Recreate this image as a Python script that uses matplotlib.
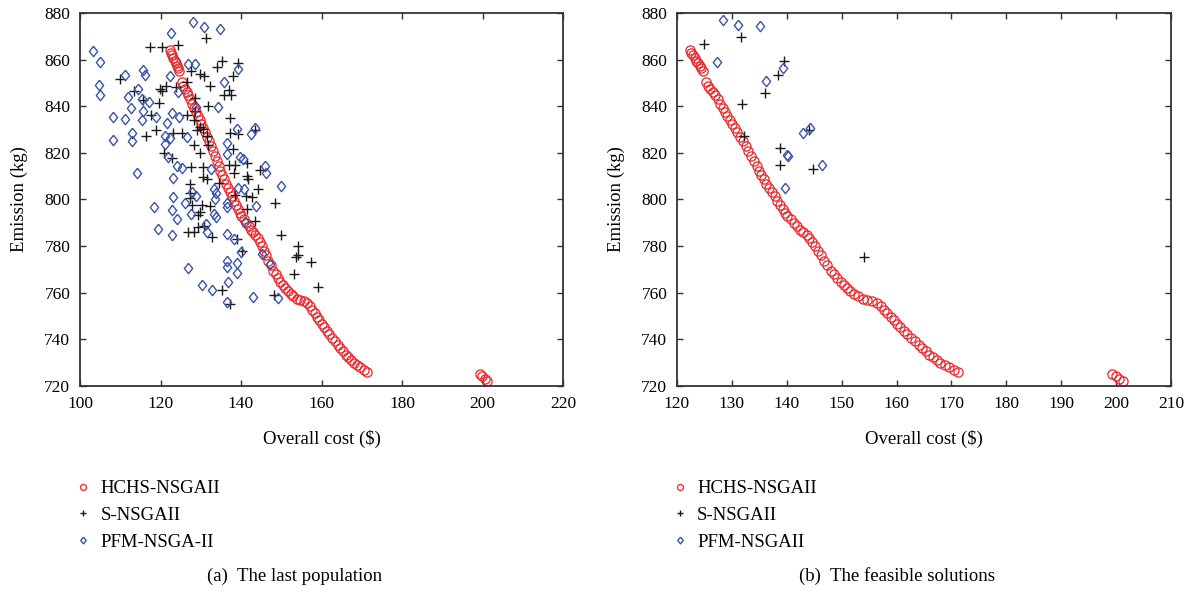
import matplotlib
matplotlib.use("Agg")
import matplotlib.pyplot as plt

plt.rcParams["font.family"] = ["Liberation Serif", "DejaVu Serif"]

# HCHS-NSGAII front (same in both panels)
HCHS_COST = [
    122.3, 122.6, 122.9, 123.2, 123.5, 123.8, 124.1, 124.4, 124.7,
    125.3, 125.7, 126.1, 126.5, 126.9, 127.4, 127.9, 128.4, 128.8, 129.2,
    129.7, 130.1, 130.6, 131.0, 131.5, 132.0, 132.5, 133.0, 133.5, 134.0,
    134.5, 134.9, 135.3, 135.8, 136.3, 136.8, 137.3, 137.8, 138.3, 138.8,
    139.3, 139.7, 140.1, 140.7, 141.3, 141.9, 142.5, 143.0, 143.6, 144.1,
    144.6, 145.1, 145.6, 146.2, 146.8, 147.4, 148.0, 148.6, 149.2, 149.8,
    150.4, 151.0, 151.6, 152.3, 153.0, 153.8, 154.6, 155.6, 156.5, 157.1,
    157.7, 158.3, 158.9, 159.5, 160.1, 160.7, 161.3, 161.9, 162.6, 163.3,
    164.0, 164.7, 165.3, 166.0, 166.7, 167.3, 168.0, 168.8, 169.5, 170.5,
    171.2,
    199.3, 199.9, 200.5, 201.2,
]
HCHS_EMISSION = [
    864.2, 863.0, 861.8, 860.7, 859.6, 858.5, 857.4, 856.3, 855.3,
    850.3, 848.9, 847.6, 846.2, 844.8, 843.0, 841.1, 839.1, 837.6, 836.0,
    834.1, 832.5, 830.6, 829.0, 827.0, 825.0, 823.0, 821.0, 818.7, 816.4,
    814.2, 812.3, 810.5, 808.6, 806.8, 804.9, 803.1, 801.3, 799.5, 797.7,
    795.9, 794.4, 793.0, 791.5, 790.0, 788.5, 787.0, 785.9, 784.6, 783.5,
    781.7, 779.9, 778.1, 776.0, 773.8, 771.7, 769.5, 767.9, 766.4, 764.8,
    763.3, 762.0, 760.7, 759.5, 758.5, 757.5, 757.0, 756.3, 755.5, 754.2,
    752.8, 751.5, 749.8, 748.2, 746.5, 745.1, 743.6, 742.2, 740.6, 739.1,
    737.5, 736.1, 734.9, 733.5, 732.3, 731.2, 730.0, 729.1, 728.3, 727.0,
    726.0,
    725.0, 724.2, 723.2, 722.0,
]

# S-NSGAII, last population
S_LAST_COST = [
    117.4, 120.4, 124.3, 131.4, 135.3, 139.2, 134.0, 127.5, 129.8, 130.8,
    138.1, 109.9, 113.3, 115.6, 119.9, 121.4, 120.3, 123.8, 126.5, 132.4,
    137.1, 135.7, 137.4, 119.7, 128.6, 131.7, 117.6, 126.7, 128.5, 128.3,
    137.3, 119.0, 116.5, 123.2, 125.4, 129.0, 129.8, 130.6, 131.6, 137.3,
    139.3, 143.5, 128.4, 131.7, 138.1, 120.8, 122.8, 129.7, 127.5, 130.6,
    137.1, 138.5, 141.6, 144.6, 138.3, 130.6, 131.6, 141.6, 141.7, 134.5,
    127.3, 144.2, 127.3, 127.8, 130.2, 132.2, 138.5, 141.2, 142.7, 141.4,
    148.4, 129.8, 129.4, 143.6, 126.9, 128.2, 129.4, 130.8, 132.7, 138.9,
    140.2, 149.9, 154.1, 153.7, 154.2, 157.3, 153.2, 159.1, 135.4, 137.3,
    148.2, 127.3,
]
S_LAST_EMISSION = [
    865.6, 865.4, 866.1, 869.2, 859.6, 858.7, 856.9, 855.1, 853.8, 853.1,
    852.9, 851.6, 846.4, 842.6, 847.6, 848.6, 846.4, 848.2, 850.3, 848.8,
    847.1, 844.9, 844.9, 841.5, 843.7, 840.2, 836.1, 836.2, 838.1, 834.3,
    835.0, 829.6, 827.4, 828.5, 828.6, 829.8, 831.2, 830.1, 827.2, 828.5,
    828.0, 829.8, 823.3, 823.5, 821.5, 819.8, 817.6, 819.8, 814.0, 814.0,
    815.0, 815.0, 815.5, 812.5, 811.2, 809.8, 808.9, 810.2, 808.6, 807.1,
    806.7, 804.3, 800.5, 797.6, 797.6, 797.2, 801.9, 801.7, 801.2, 796.0,
    798.6, 794.8, 793.4, 790.9, 786.2, 786.2, 788.3, 788.6, 784.0, 783.0,
    777.7, 784.9, 780.0, 775.5, 776.2, 773.1, 768.0, 762.4, 761.2, 755.2,
    758.9, 803.0,
]

# PFM-NSGA-II, last population
PFM_LAST_COST = [
    128.1, 130.8, 134.8, 122.6, 103.2, 104.9, 126.8, 128.6, 139.2, 111.3,
    115.6, 116.1, 122.4, 135.8, 104.8, 104.9, 114.4, 111.9, 115.3, 117.2,
    124.4, 112.6, 134.3, 128.8, 108.1, 111.2, 115.6, 115.3, 119.0, 122.8,
    124.5, 121.7, 138.9, 143.6, 142.6, 108.3, 113.0, 113.0, 121.2, 122.3,
    121.1, 126.7, 136.6, 136.4, 139.8, 140.4, 121.9, 124.0, 125.3, 114.2,
    123.0, 146.0, 146.3, 150.0, 132.5, 127.8, 128.7, 133.3, 133.8, 133.5,
    139.2, 140.8, 123.2, 118.4, 122.8, 124.0, 126.0, 127.7, 131.2, 131.6,
    133.2, 133.8, 136.4, 136.5, 143.7, 141.0, 119.5, 122.8, 136.6, 138.3,
    140.0, 145.1, 147.1, 136.5, 136.4, 139.1, 139.1, 126.9, 130.2, 132.9,
    136.7, 136.4, 143.1, 149.3,
]
PFM_LAST_EMISSION = [
    876.0, 874.1, 873.3, 871.5, 863.8, 858.9, 858.3, 858.3, 856.0, 853.6,
    855.5, 853.6, 853.1, 850.4, 849.0, 844.7, 847.3, 843.8, 843.3, 841.9,
    846.2, 839.4, 839.8, 839.7, 835.3, 834.7, 838.0, 834.0, 835.5, 837.2,
    835.3, 832.9, 830.3, 830.7, 827.9, 825.6, 828.5, 825.0, 827.4, 826.4,
    823.6, 826.8, 824.1, 819.5, 818.4, 817.4, 818.2, 814.2, 813.6, 811.5,
    809.3, 814.3, 811.4, 806.0, 812.9, 803.4, 801.3, 804.3, 802.8, 800.1,
    804.8, 804.6, 801.0, 796.7, 795.3, 791.8, 798.6, 793.7, 789.7, 786.2,
    793.6, 792.6, 798.6, 796.9, 797.2, 790.5, 787.3, 784.9, 785.3, 782.9,
    777.6, 776.6, 772.3, 773.6, 771.0, 772.7, 768.5, 770.5, 763.4, 761.2,
    764.5, 756.2, 758.3, 757.9,
]

# feasible solutions
S_FEAS_COST = [124.9, 131.6, 139.5, 138.4, 136.0, 131.8, 132.2, 144.1, 138.8, 138.7, 144.8, 154.1]
S_FEAS_EMISSION = [866.7, 869.7, 859.3, 853.6, 845.7, 841.0, 827.1, 830.0, 821.9, 815.0, 812.9, 775.3]
PFM_FEAS_COST = [128.4, 131.1, 135.1, 127.2, 139.4, 136.2, 143.0, 144.2, 140.0, 140.2, 146.4, 139.7]
PFM_FEAS_EMISSION = [877.1, 874.7, 874.3, 858.8, 856.4, 851.0, 828.6, 830.7, 818.9, 818.5, 814.6, 805.0]

RED = "#e8262a"
BLACK = "#1a1a1a"
BLUE = "#3a55a6"
SPINE = "#333333"
DIAMOND = [(0, 1), (0.8, 0), (0, -1), (-0.8, 0), (0, 1)]


def _style_axes(ax, xlim, xstep):
    ax.set_xlim(*xlim)
    ax.set_ylim(720, 880)
    ax.set_xticks(range(xlim[0], xlim[1] + 1, xstep))
    ax.set_yticks(range(720, 881, 20))
    ax.tick_params(direction="in", top=True, right=True, length=4, width=1.0,
                   color=SPINE, labelsize=12.5, pad=7)
    for s in ax.spines.values():
        s.set_linewidth(1.3)
        s.set_color(SPINE)
    ax.set_xlabel("Overall cost ($)", fontsize=13.5, labelpad=13)
    ax.set_ylabel("Emission (kg)", fontsize=13.5, labelpad=12)


def _draw(ax, s_cost, s_em, p_cost, p_em, p_label):
    ax.plot(HCHS_COST, HCHS_EMISSION, linestyle="none", marker="o", markersize=6.6,
            markerfacecolor="none", markeredgecolor=RED, markeredgewidth=0.9,
            label="HCHS-NSGAII")
    ax.plot(s_cost, s_em, linestyle="none", marker="+", markersize=7,
            color=BLACK, markeredgewidth=1.0, label="S-NSGAII")
    ax.plot(p_cost, p_em, linestyle="none", marker=DIAMOND, markersize=7.5,
            markerfacecolor="none", markeredgecolor=BLUE, markeredgewidth=1.0,
            label=p_label)
    ax.legend(loc="upper left", bbox_to_anchor=(-0.02, -0.232), frameon=False,
              fontsize=13.5, handlelength=0.6, handletextpad=0.6,
              labelspacing=0.52, markerscale=0.65, borderaxespad=0)


fig = plt.figure(figsize=(11.98, 5.93), dpi=100)
ax1 = fig.add_axes([80 / 1198, 1 - 386 / 593, 483 / 1198, 373 / 593])
ax2 = fig.add_axes([677 / 1198, 1 - 386 / 593, 494 / 1198, 373 / 593])

_draw(ax1, S_LAST_COST, S_LAST_EMISSION, PFM_LAST_COST, PFM_LAST_EMISSION, "PFM-NSGA-II")
_style_axes(ax1, (100, 220), 20)

_draw(ax2, S_FEAS_COST, S_FEAS_EMISSION, PFM_FEAS_COST, PFM_FEAS_EMISSION, "PFM-NSGAII")
_style_axes(ax2, (120, 210), 10)

fig.text(295 / 1198, 1 - 576 / 593, "(a)  The last population", ha="center", va="center", fontsize=13.5)
fig.text(897 / 1198, 1 - 576 / 593, "(b)  The feasible solutions", ha="center", va="center", fontsize=13.5)

fig.savefig("out.png", dpi=100)
